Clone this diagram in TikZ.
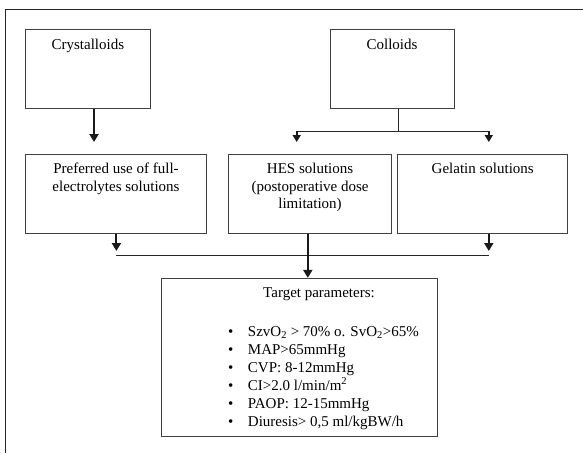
\documentclass[tikz,border=0pt]{standalone}
\usepackage{fontspec}
\setmainfont{Liberation Serif}
\usetikzlibrary{arrows.meta,calc}
\begin{document}
\begin{tikzpicture}[x=1pt,y=-1pt,
  every node/.style={font=\fontsize{15}{17.5}\selectfont},
  box/.style={draw=black!75, line width=0.9pt, inner sep=0pt, fill=none},
  lbl/.style={anchor=north, inner sep=0pt, align=center},
  arr/.style={draw=black!90, line width=2pt, -{Triangle[length=8pt,width=9pt]}},
  sarr/.style={draw=black!90, line width=1.6pt, -{Triangle[length=7pt,width=8pt]}},
  thinline/.style={draw=black!85, line width=1pt},
  frame/.style={draw=black!85, line width=1.6pt}]
\useasboundingbox (0,0) rectangle (583,453);
\fill[white] (0,0) rectangle (583,453);
% outer frame (clipped at right and bottom)
\draw[frame] (5.5,453) -- (5.5,9.5) -- (583,9.5);

% top row
\node[box, minimum width=124.3pt, minimum height=79.4pt] (cry) at (87.85,69) {};
\node[lbl] (tcry) at ([yshift=-10.5pt]cry.north) {Crystalloids};
\node[box, minimum width=124pt, minimum height=79.4pt] (col) at (392,69) {};
\node[lbl] (tcol) at ([yshift=-10.5pt]col.north) {Colloids};

% second row
\node[box, minimum width=181.4pt, minimum height=79.3pt] (b1) at (116,193.65) {};
\node[lbl] (tb1) at ([yshift=-9.5pt]b1.north) {Preferred use of full-\\electrolytes solutions};
\node[box, minimum width=163.5pt, minimum height=79.3pt] (b2) at (310.05,193.65) {};
\node[lbl] (tb2) at ([yshift=-9.5pt]b2.north) {HES solutions\\(postoperative dose\\limitation)};
\node[box, minimum width=169.9pt, minimum height=79.3pt] (b3) at (482.75,193.65) {};
\node[lbl] (tb3) at ([yshift=-9.5pt]b3.north) {Gelatin solutions};

% target box
\node[box, minimum width=276pt, minimum height=158.4pt] (tg) at (299,357.5) {};
\node[lbl] (ttg) at ([yshift=-10pt]tg.north -| 319,0) {Target parameters:};
\node[anchor=base west, inner sep=0pt, font=\fontsize{15}{18}\selectfont] (list) at (228,336) {%
\begin{tabular}[t]{@{}l@{\hspace{14.5pt}}l@{}}
\textbullet & SzvO\textsubscript{2} > 70\% o. SvO\textsubscript{2}>65\%\\
\textbullet & MAP>65mmHg\\
\textbullet & CVP: 8-12mmHg\\
\textbullet & CI>2.0 l/min/m\textsuperscript{2}\\
\textbullet & PAOP: 12-15mmHg\\
\textbullet & Diuresis> 0,5 ml/kgBW/h
\end{tabular}};

% connectors top
\coordinate (a1) at (94,142);
\draw[arr] (cry.south -| a1) -- (a1);
\coordinate (cj) at (398,131);
\coordinate (cl) at (296.7,131);
\coordinate (cr) at (488.8,131);
\coordinate (clt) at (296.7,142);
\coordinate (crt) at (488.8,142);
\draw[thinline] (col.south -| cj) -- (cj);
\draw[thinline] (cl) -- (cr);
\draw[sarr] (cl) -- (clt);
\draw[sarr] (cr) -- (crt);

% connectors bottom
\coordinate (m1) at (116.4,255.7);
\coordinate (m3) at (488.8,255.7);
\coordinate (t1) at (116.4,251);
\coordinate (t3) at (488.8,251);
\draw[arr] (b1.south -| t1) -- (t1);
\draw[arr] (b3.south -| t3) -- (t3);
\draw[thinline, line width=1.3pt] (m1) -- (m3);
\coordinate (h) at (307.8,0);
\draw[arr] (b2.south -| h) -- (tg.north -| h);
\end{tikzpicture}
\end{document}
